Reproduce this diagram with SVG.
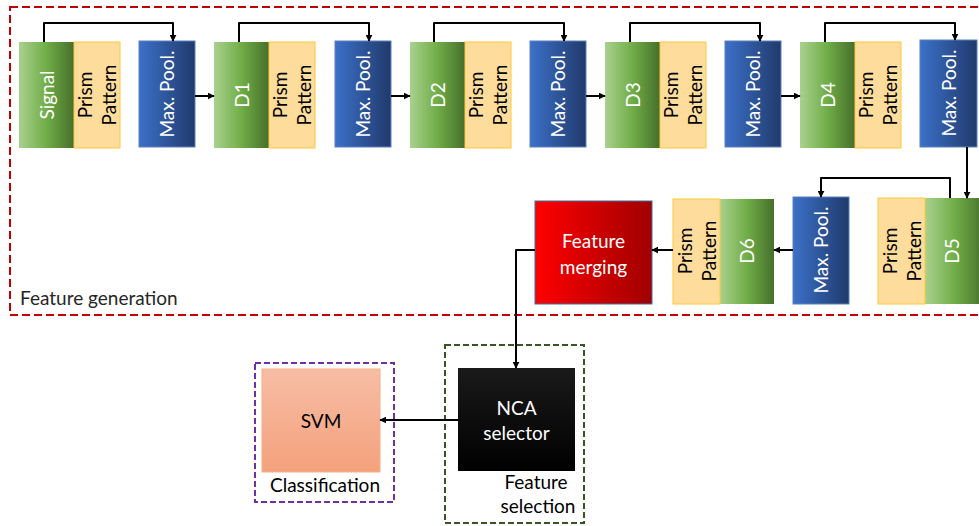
<svg xmlns="http://www.w3.org/2000/svg" width="979" height="526" viewBox="0 0 979 526">
<defs>
<linearGradient id="gGreen" x1="0" y1="0" x2="1" y2="0">
<stop offset="0" stop-color="#a9d18e"/><stop offset="0.5" stop-color="#70ad47"/><stop offset="1" stop-color="#466f2b"/>
</linearGradient>
<linearGradient id="gBlue" x1="0" y1="0" x2="1" y2="0">
<stop offset="0" stop-color="#3c70c8"/><stop offset="1" stop-color="#203a6c"/>
</linearGradient>
<linearGradient id="gRed" x1="0" y1="0" x2="1" y2="0">
<stop offset="0" stop-color="#ff0000"/><stop offset="1" stop-color="#a00000"/>
</linearGradient>
<linearGradient id="gSalmon" x1="0" y1="0" x2="0" y2="1">
<stop offset="0" stop-color="#f7bda5"/><stop offset="1" stop-color="#f4a17c"/>
</linearGradient>
<linearGradient id="gBlack" x1="0" y1="0" x2="0" y2="1">
<stop offset="0" stop-color="#1a1a1a"/><stop offset="1" stop-color="#000000"/>
</linearGradient>
<marker id="arr" viewBox="0 0 10 10" refX="9" refY="5" markerWidth="7" markerHeight="7" markerUnits="userSpaceOnUse" orient="auto">
<path d="M0,0 L10,5 L0,10 z" fill="#000"/>
</marker>
</defs>
<style>
text{font-family:Lato,"Open Sans","Liberation Sans",sans-serif;font-size:19px}
.green{fill:url(#gGreen)}
.blue{fill:url(#gBlue);stroke:#5b80c0;stroke-width:1}
.prism{fill:#fedc9c;stroke:#ffc83d;stroke-width:1}
.w{fill:#fff;text-anchor:middle}
.k{fill:#000;text-anchor:middle}
.conn{fill:none;stroke:#000;stroke-width:2;stroke-linejoin:round}
.frame{fill:none;stroke-width:2}
</style>
<rect class="frame" x="10" y="7" width="990" height="308" stroke="#c00000" stroke-dasharray="8,4"/>
<text x="20" y="305" fill="#262626">Feature generation</text>
<g id="signal"><rect class="green" x="19" y="42" width="55" height="106"/><text class="w" transform="translate(46.5,95) rotate(-90)" dy="7">Signal</text></g>
<g id="prism1"><rect class="prism" x="74" y="42" width="46" height="106"/><text class="k" transform="translate(85,95) rotate(-90)" dy="7">Prism</text><text class="k" transform="translate(109,95) rotate(-90)" dy="7">Pattern</text></g>
<g id="pool1"><rect class="blue" x="139" y="41" width="56" height="106"/><text class="w" transform="translate(167,94) rotate(-90)" dy="7">Max. Pool.</text></g>
<g id="d1"><rect class="green" x="214" y="42" width="55" height="106"/><text class="w" transform="translate(241.5,95) rotate(-90)" dy="7">D1</text></g>
<g id="prism2"><rect class="prism" x="269" y="42" width="46" height="106"/><text class="k" transform="translate(280,95) rotate(-90)" dy="7">Prism</text><text class="k" transform="translate(304,95) rotate(-90)" dy="7">Pattern</text></g>
<g id="pool2"><rect class="blue" x="335" y="41" width="56" height="106"/><text class="w" transform="translate(363,94) rotate(-90)" dy="7">Max. Pool.</text></g>
<g id="d2"><rect class="green" x="410" y="42" width="55" height="106"/><text class="w" transform="translate(437.5,95) rotate(-90)" dy="7">D2</text></g>
<g id="prism3"><rect class="prism" x="465" y="42" width="46" height="106"/><text class="k" transform="translate(476,95) rotate(-90)" dy="7">Prism</text><text class="k" transform="translate(500,95) rotate(-90)" dy="7">Pattern</text></g>
<g id="pool3"><rect class="blue" x="530" y="41" width="56" height="106"/><text class="w" transform="translate(558,94) rotate(-90)" dy="7">Max. Pool.</text></g>
<g id="d3"><rect class="green" x="605" y="42" width="55" height="106"/><text class="w" transform="translate(632.5,95) rotate(-90)" dy="7">D3</text></g>
<g id="prism4"><rect class="prism" x="660" y="42" width="46" height="106"/><text class="k" transform="translate(671,95) rotate(-90)" dy="7">Prism</text><text class="k" transform="translate(695,95) rotate(-90)" dy="7">Pattern</text></g>
<g id="pool4"><rect class="blue" x="725" y="41" width="56" height="106"/><text class="w" transform="translate(753,94) rotate(-90)" dy="7">Max. Pool.</text></g>
<g id="d4"><rect class="green" x="800" y="42" width="55" height="106"/><text class="w" transform="translate(827.5,95) rotate(-90)" dy="7">D4</text></g>
<g id="prism5"><rect class="prism" x="855" y="42" width="46" height="106"/><text class="k" transform="translate(866,95) rotate(-90)" dy="7">Prism</text><text class="k" transform="translate(890,95) rotate(-90)" dy="7">Pattern</text></g>
<g id="pool5"><rect class="blue" x="920" y="40" width="57" height="107"/><text class="w" transform="translate(948.5,93) rotate(-90)" dy="7">Max. Pool.</text></g>
<g id="d5"><rect class="green" x="925" y="198" width="60" height="106"/><text class="w" transform="translate(952,251) rotate(-90)" dy="7">D5</text></g>
<g id="prism6"><rect class="prism" x="878" y="198" width="47" height="106"/><text class="k" transform="translate(890,251) rotate(-90)" dy="7">Prism</text><text class="k" transform="translate(914,251) rotate(-90)" dy="7">Pattern</text></g>
<g id="pool6"><rect class="blue" x="793" y="197" width="56" height="107"/><text class="w" transform="translate(821,250) rotate(-90)" dy="7">Max. Pool.</text></g>
<g id="d6"><rect class="green" x="720" y="199" width="54" height="105"/><text class="w" transform="translate(747,251) rotate(-90)" dy="7">D6</text></g>
<g id="prism7"><rect class="prism" x="673" y="199" width="47" height="105"/><text class="k" transform="translate(685,251) rotate(-90)" dy="7">Prism</text><text class="k" transform="translate(709,251) rotate(-90)" dy="7">Pattern</text></g>
<g id="merge"><rect x="535" y="201" width="117" height="103" fill="url(#gRed)" stroke="#41719c" stroke-width="1"/><text class="w" x="593.5" y="248">Feature</text><text class="w" x="593.5" y="274">merging</text></g>
<g id="selection"><rect class="frame" x="445" y="345" width="139" height="178" stroke="#375623" stroke-dasharray="6,3"/><rect x="458" y="368" width="117" height="103" fill="url(#gBlack)"/><text class="w" x="516.5" y="415">NCA</text><text class="w" x="516.5" y="440">selector</text><text class="k" x="536" y="489">Feature</text><text class="k" x="538" y="513">selection</text></g>
<g id="classification"><rect class="frame" x="255" y="363" width="139" height="139" stroke="#7030a0" stroke-dasharray="6,3"/><rect x="262" y="369" width="118" height="103" fill="url(#gSalmon)" stroke="#f4b183" stroke-width="1"/><text class="k" x="321" y="428">SVM</text><text class="k" x="325" y="492">Classification</text></g>
<g id="connectors">
<path class="conn" d="M44,42 V23 H173 V41" marker-end="url(#arr)"/>
<path class="conn" d="M239,42 V23 H369 V41" marker-end="url(#arr)"/>
<path class="conn" d="M434,42 V23 H564 V41" marker-end="url(#arr)"/>
<path class="conn" d="M630,42 V23 H760 V41" marker-end="url(#arr)"/>
<path class="conn" d="M825,42 V23 H955 V40" marker-end="url(#arr)"/>
<path class="conn" d="M195,96 H214" marker-end="url(#arr)"/>
<path class="conn" d="M391,96 H410" marker-end="url(#arr)"/>
<path class="conn" d="M586,96 H605" marker-end="url(#arr)"/>
<path class="conn" d="M781,96 H800" marker-end="url(#arr)"/>
<path class="conn" d="M967,147 V198" marker-end="url(#arr)"/>
<path class="conn" d="M950,198 V178 H821 V197" marker-end="url(#arr)"/>
<path class="conn" d="M793,250 H774" marker-end="url(#arr)"/>
<path class="conn" d="M673,250 H652" marker-end="url(#arr)"/>
<path class="conn" d="M535,250 H516 V368" marker-end="url(#arr)"/>
<path class="conn" d="M458,420 H380" marker-end="url(#arr)"/>
</g>
</svg>
